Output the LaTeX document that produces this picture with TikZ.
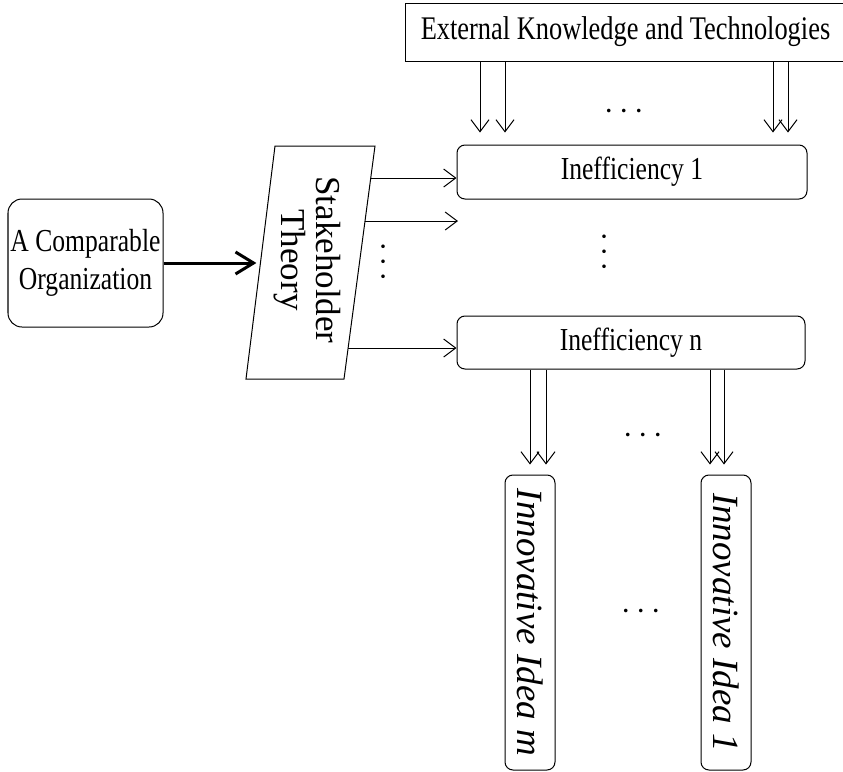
\documentclass[tikz,border=0pt]{standalone}
\usepackage{fontspec}
\setmainfont{Liberation Serif}
\newfontfamily\narrowfont{Liberation Serif}[FakeStretch=0.8]
\usetikzlibrary{arrows.meta}
\newcommand{\thinline}{0.5pt}
\newcommand{\thickline}{1.5pt}
\newcommand{\boxround}{4pt}

\begin{document}
\begin{tikzpicture}[x=0.5pt, y=-0.5pt,
    box/.style={draw, line width=\thinline, rounded corners=\boxround, inner sep=0pt, font=\narrowfont\fontsize{16}{19}\selectfont},
    ideabox/.style={box, rotate=-90, minimum width=147.5pt, minimum height=25pt, font=\itshape\fontsize{18.5}{22}\selectfont},
    link/.style={-{Straight Barb[length=6pt, width=9pt]}, line width=\thinline},
    bigarrow/.style={-{Straight Barb[length=9pt, width=11pt]}, line width=\thickline},
    dots/.style={inner sep=0pt, scale=1.7}]
    \useasboundingbox (0,0) rectangle (843,772);

    % boxes
    \node[box, rounded corners=7pt, minimum width=77.5pt, minimum height=64pt, align=center] (org) at (85.5,263) {A Comparable\\Organization};
    \node[box, rounded corners=0pt, minimum width=220.5pt, minimum height=29pt, font=\narrowfont\fontsize{16.5}{19}\selectfont] (ext) at (625.5,32) {External Knowledge and Technologies};
    \node[box, minimum width=175pt, minimum height=27pt] (ineff1) at (632,172) {Inefficiency 1};
    \node[box, minimum width=174pt, minimum height=26.5pt] (ineffn) at (631,342.5) {Inefficiency n};
    \node[ideabox] (ideam) at (530,622.5) {Innovative Idea m};
    \node[ideabox] (idea1) at (726,622.5) {Innovative Idea 1};

    % stakeholder theory
    \coordinate (parBL) at (246,379);
    \coordinate (parBR) at (344,379);
    \coordinate (parTR) at (375,146);
    \coordinate (parTL) at (275,146);
    \draw[line width=\thinline] (parBL) -- (parBR) -- (parTR) -- (parTL) -- cycle;
    \node[rotate=-90, align=center, font=\fontsize{17.5}{17.5}\selectfont] (theory) at (307.5,260) {Stakeholder\\Theory};

    % arrows
    \coordinate (parL) at (260.4,263);
    \draw[bigarrow, shorten >=2pt] (org.east) -- (parL);

    \coordinate (stA) at (370.7,178);
    \coordinate (stB) at (365,221);
    \coordinate (stBend) at (458,221);
    \coordinate (stC) at (348.1,348);
    \draw[link] (stA) -- (stA -| ineff1.west);
    \draw[link] (stB) -- (stBend);
    \draw[link] (stC) -- (stC -| ineffn.west);

    \foreach \xa in {480,505,773,788} {
        \coordinate (col) at (\xa,0);
        \draw[link, shorten >=6pt] (col |- ext.south) -- (col |- ineff1.north);
    }
    \foreach \xa in {530,546} {
        \coordinate (col) at (\xa,0);
        \draw[link, shorten >=5pt] (col |- ineffn.south) -- (col |- ideam.west);
    }
    \foreach \xa in {710,724} {
        \coordinate (col) at (\xa,0);
        \draw[link, shorten >=5pt] (col |- ineffn.south) -- (col |- idea1.west);
    }

    % dots
    \node[dots] (dotsext) at (624,112) {$\cdots$};
    \node[dots, rotate=90] (dotsmid) at (384,262) {$\cdots$};
    \node[dots, rotate=90] (dotsineff) at (605,252) {$\cdots$};
    \node[dots] (dotsout) at (643,436) {$\cdots$};
    \node[dots] (dotsidea) at (641,612) {$\cdots$};
\end{tikzpicture}
\end{document}
